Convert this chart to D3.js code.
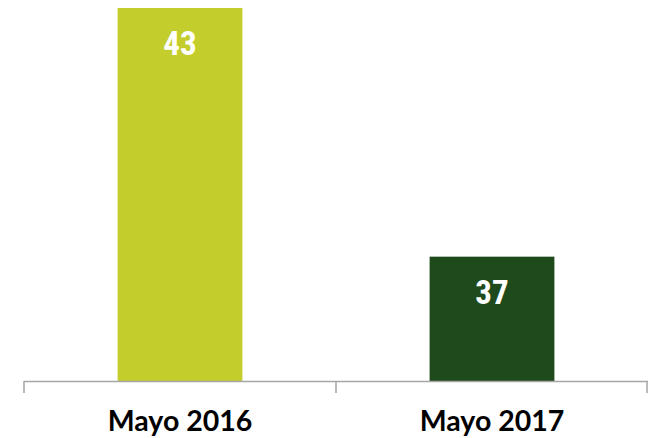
<!DOCTYPE html>
<html>
<head>
<meta charset="utf-8">
<script src="https://cdn.jsdelivr.net/npm/d3@7"></script>
<style>
  body { margin: 0; background: #fff; }
  svg { display: block; }
</style>
</head>
<body>
<svg id="chart" width="650" height="438"></svg>
<script>
var categories = ["Mayo 2016", "Mayo 2017"];
var values = [43, 37];
var colors = ["#C3CD2B", "#1F4A1C"];

var width = 650, height = 438;
var margin = {top: 8, right: 2, bottom: 57, left: 24};
var chartWidth = width - margin.left - margin.right;
var chartHeight = height - margin.top - margin.bottom;

var svg = d3.select("#chart");
var g = svg.append("g")
    .attr("transform", "translate(" + margin.left + "," + margin.top + ")");

var xScale = d3.scaleBand()
    .domain(categories)
    .range([0, chartWidth])
    .paddingInner(0)
    .paddingOuter(0);

var yScale = d3.scaleLinear()
    .domain([34, 43])
    .range([chartHeight, 0]);

var barW = xScale.bandwidth() * 0.4;

var data = categories.map(function(c, i) { return {cat: c, val: values[i], col: colors[i]}; });

g.selectAll("rect.bar")
    .data(data)
    .enter()
    .append("rect")
    .attr("class", "bar")
    .attr("x", function(d) { return xScale(d.cat) + (xScale.bandwidth() - barW) / 2; })
    .attr("y", function(d) { return yScale(d.val); })
    .attr("width", barW)
    .attr("height", function(d) { return chartHeight - yScale(d.val); })
    .style("fill", function(d) { return d.col; });

g.selectAll("text.val")
    .data(data)
    .enter()
    .append("text")
    .attr("class", "val")
    .attr("x", function(d) { return xScale(d.cat) + xScale.bandwidth() / 2; })
    .attr("y", function(d) { return yScale(d.val) + 47; })
    .attr("text-anchor", "middle")
    .style("font-family", "'Liberation Sans Narrow', 'Roboto Condensed', 'Liberation Sans', sans-serif")
    .style("font-weight", "bold")
    .style("font-size", "33px")
    .style("fill", "#fff")
    .text(function(d) { return d.val; });

// axis: line with ticks at band edges
var axisG = g.append("g")
    .attr("transform", "translate(0," + chartHeight + ")");

var edges = [0].concat(categories.map(function(c) { return xScale(c) + xScale.bandwidth(); }));

axisG.append("line")
    .attr("x1", 0).attr("x2", chartWidth)
    .attr("y1", 0.5).attr("y2", 0.5)
    .style("stroke", "#A6A6A6")
    .style("stroke-width", 1.5);

axisG.selectAll("line.tick")
    .data(edges)
    .enter()
    .append("line")
    .attr("class", "tick")
    .attr("x1", function(d) { return Math.min(d, chartWidth - 1); })
    .attr("x2", function(d) { return Math.min(d, chartWidth - 1); })
    .attr("y1", 0).attr("y2", 12)
    .style("stroke", "#A6A6A6")
    .style("stroke-width", 1.5);

axisG.selectAll("text.cat")
    .data(categories)
    .enter()
    .append("text")
    .attr("class", "cat")
    .attr("x", function(d) { return xScale(d) + xScale.bandwidth() / 2; })
    .attr("y", 50)
    .attr("text-anchor", "middle")
    .style("font-family", "Lato, 'Open Sans', sans-serif")
    .style("font-weight", "bold")
    .style("font-size", "28.5px")
    .style("fill", "#000")
    .text(function(d) { return d; });
</script>
</body>
</html>
